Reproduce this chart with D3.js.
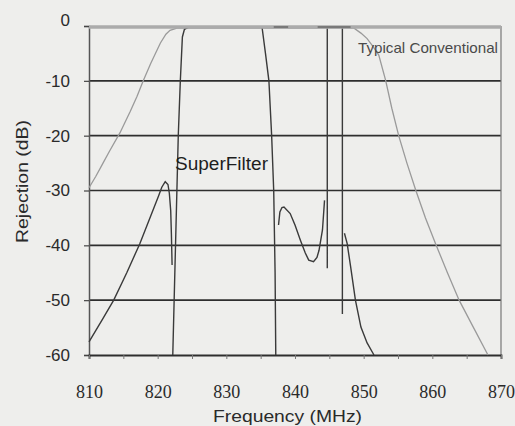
<!DOCTYPE html>
<html>
<head>
<meta charset="utf-8">
<script src="https://cdn.jsdelivr.net/npm/d3@7"></script>
<style>
  html, body { margin: 0; padding: 0; background: #eeeeec; }
  svg { display: block; }
</style>
</head>
<body>
<div id="chart"></div>
<script>
// ---- data ----
const xTicks = [810, 820, 830, 840, 850, 860, 870];
const yTicks = [0, -10, -20, -30, -40, -50, -60];

const convFreq = [810, 811, 812, 813, 814.5, 816, 817, 817.9, 819, 820.4, 821.2, 821.8, 822.8, 848.6, 849.6, 850.5, 851.4, 852.2, 853.2, 854.1, 855.1, 856.3, 857.6, 859, 860.5, 862.2, 863.9, 866, 868.1];
const convDb   = [-29.5, -27.4, -25.1, -22.8, -19.5, -15.6, -12.8, -10, -6.8, -3.1, -1.5, -0.8, -0.4, -0.4, -1.3, -2.3, -3.8, -5.3, -9.9, -15, -20, -25, -30, -35, -39.8, -45, -50, -55, -60];

// SuperFilter response, null = break between traced segments
const sfFreq = [810, 811, 812, 813.6, 815.5, 817.4, 819, 820.1, 820.6, 821.1, 821.5, 821.7, 821.9, 822.0, 822.1, null,
                822.2, 822.6, 823.0, 823.3, 823.6, 823.9, 824.5, 835.2, 835.7, 836.2, 836.6, 836.9, 837.1, 837.2, null,
                837.6, 837.8, 838.1, 838.4, 839.3, 840.0, 840.8, 841.5, 842.0, 842.7, 843.2, 843.5, 844.0, 844.3, null,
                844.7, 844.7, 846.9, 846.9, null,
                847.2, 847.6, 848.1, 848.8, 849.6, 850.5, 851.5];
const sfDb   = [-57.6, -55.5, -53.4, -50, -45, -39.7, -34.6, -31.1, -29.4, -28.4, -28.9, -30.5, -33.7, -38, -43.6, null,
                -60, -40, -20, -10, -2, -0.6, -0.2, -0.2, -5, -10, -20, -30, -45, -60, null,
                -36.3, -33.9, -33.1, -33, -34.2, -36.3, -39.1, -41.4, -42.7, -43, -42.2, -40.9, -37.2, -31.8, null,
                -44.2, -0.2, -0.2, -52.5, null,
                -37.8, -39.7, -43.9, -50, -54.9, -57.8, -60];

// short dark dashes visible on the top edge
const dashFreq = [836.9, 839.0, null, 843.3, 848.1];
const dashDb   = [-0.2, -0.2, null, -0.2, -0.2];

const W = 515, H = 426;
const m = {left: 89, right: 14, top: 26, bottom: 71};

const svg = d3.select("#chart").append("svg").attr("width", W).attr("height", H);
svg.append("rect").attr("width", W).attr("height", H).attr("fill", "#eeeeec");

const x = d3.scaleLinear().domain([810, 870]).range([m.left, W - m.right]);
const y = d3.scaleLinear().domain([-60, 0]).range([H - m.bottom, m.top]);

// horizontal grid
svg.append("g").selectAll("line").data(yTicks.filter(v => v !== 0 && v !== -60)).join("line")
  .attr("x1", x(810)).attr("x2", x(870))
  .attr("y1", d => y(d)).attr("y2", d => y(d))
  .attr("stroke", "#2e2e2e").attr("stroke-width", 1.6);

// right border
svg.append("line").attr("x1", x(870)).attr("x2", x(870)).attr("y1", y(0)).attr("y2", y(-60))
  .attr("stroke", "#777").attr("stroke-width", 1.2);

// y axis
const yAxis = svg.append("g").attr("transform", `translate(${x(810)},0)`)
  .call(d3.axisLeft(y).tickValues(yTicks).tickSize(5).tickPadding(14).tickFormat(d => String(d)));
yAxis.select(".domain").attr("stroke", "#555").attr("stroke-width", 1.5);
yAxis.selectAll(".tick line").attr("stroke", "#444").attr("stroke-width", 1.2);
yAxis.selectAll(".tick text")
  .attr("font-family", "'Liberation Sans', Arial, sans-serif").attr("font-size", 17)
  .attr("fill", "#2a2a2a")
  .attr("dy", d => d === 0 ? "-0.05em" : "0.32em");

// x axis
const xAxis = svg.append("g").attr("transform", `translate(0,${y(-60)})`)
  .call(d3.axisBottom(x).tickValues(d3.range(810, 871, 5)).tickSize(4).tickPadding(26)
    .tickFormat(d => xTicks.includes(d) ? d : ""));
xAxis.select(".domain").attr("stroke", "#2e2e2e").attr("stroke-width", 1.8);
xAxis.selectAll(".tick line").attr("stroke", "#777").attr("stroke-width", 1);
xAxis.selectAll(".tick text")
  .attr("font-family", "'Liberation Serif', 'Times New Roman', serif").attr("font-size", 18)
  .attr("fill", "#2a2a2a");

// lines
const line = d3.line().defined(d => d[1] !== null).x(d => x(d[0])).y(d => y(d[1]));
const conv = convFreq.map((f, i) => [f, convDb[i]]);
const sf = sfFreq.map((f, i) => [f, sfDb[i]]);
const dash = dashFreq.map((f, i) => [f, dashDb[i]]);

svg.append("path").datum(conv).attr("d", line)
  .attr("fill", "none").attr("stroke", "#9a9a9a").attr("stroke-width", 1.3);
svg.append("path").datum(sf).attr("d", line)
  .attr("fill", "none").attr("stroke", "#3a3a3a").attr("stroke-width", 1.4);

// top border (drawn over the flat passband tops)
svg.append("line").attr("x1", x(810)).attr("x2", x(870)).attr("y1", y(0) + 1).attr("y2", y(0) + 1)
  .attr("stroke", "#ababab").attr("stroke-width", 3.5);
svg.append("path").datum(dash).attr("d", line)
  .attr("fill", "none").attr("stroke", "#6a6a6a").attr("stroke-width", 1.5);

// labels
svg.append("text").attr("x", 358).attr("y", 53)
  .attr("font-family", "'Liberation Sans', Arial, sans-serif").attr("font-size", 15)
  .attr("textLength", 140).attr("lengthAdjust", "spacingAndGlyphs")
  .attr("fill", "#4a4a4a").text("Typical Conventional");
svg.append("text").attr("x", 175).attr("y", 170)
  .attr("font-family", "'Liberation Sans', Arial, sans-serif").attr("font-size", 18)
  .attr("textLength", 93).attr("lengthAdjust", "spacingAndGlyphs")
  .attr("fill", "#1e1e1e").text("SuperFilter");

svg.append("text").attr("x", 287.5).attr("y", 422).attr("text-anchor", "middle")
  .attr("font-family", "'Liberation Sans', Arial, sans-serif").attr("font-size", 17)
  .attr("textLength", 149).attr("lengthAdjust", "spacingAndGlyphs")
  .attr("fill", "#2a2a2a").text("Frequency (MHz)");
svg.append("text").attr("transform", "translate(28,181.5) rotate(-90)").attr("text-anchor", "middle")
  .attr("font-family", "'Liberation Sans', Arial, sans-serif").attr("font-size", 17)
  .attr("textLength", 123).attr("lengthAdjust", "spacingAndGlyphs")
  .attr("fill", "#2a2a2a").text("Rejection (dB)");
</script>
</body>
</html>
